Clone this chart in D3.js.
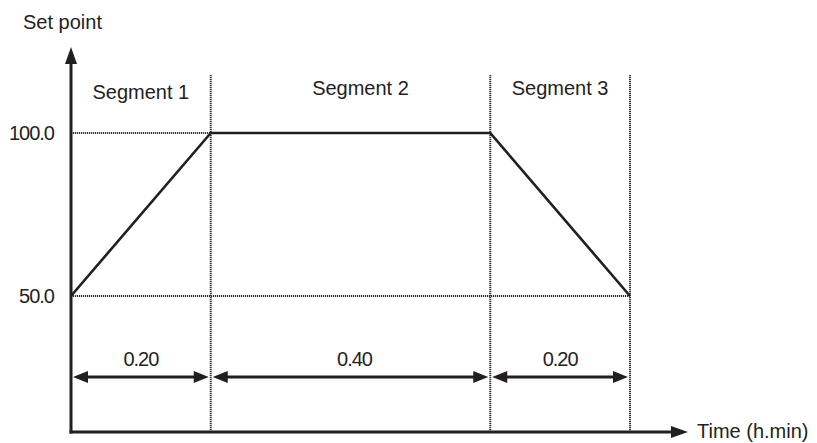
<!DOCTYPE html>
<html>
<head>
<meta charset="utf-8">
<script src="https://cdn.jsdelivr.net/npm/d3@7"></script>
<style>
  body { margin: 0; background: #fff; }
  text { font-family: "Liberation Sans", Arial, sans-serif; fill: #231f20; }
  .num { letter-spacing: -1px; }
</style>
</head>
<body>
<div id="chart"></div>
<script>
// program data
var segments = ["Segment 1", "Segment 2", "Segment 3"];
var segTimes = [0, 20, 60, 80];          // minutes at segment boundaries
var segDurations = ["0.20", "0.40", "0.20"];
var setPoints = [50, 100, 100, 50];      // set point at each boundary
var yTicks = [50, 100];

var svgWidth = 817;
var svgHeight = 443;
var ink = "#231f20";

var svg = d3.select("#chart")
  .append("svg")
  .attr("width", svgWidth)
  .attr("height", svgHeight);

// scales
var xScale = d3.scaleLinear()
  .domain([0, 80])
  .range([71, 630]);

var yScale = d3.scaleLinear()
  .domain([50, 100])
  .range([296, 133]);

var axisY = 432;
var axisTop = 47;
var axisRight = xScale(80) + 58;

var profile = segTimes.map((t, i) => ({ t: t, v: setPoints[i] }));

// dotted guide lines
var dotted = svg.append("g")
  .attr("stroke", "#333")
  .attr("stroke-width", 2)
  .attr("stroke-dasharray", "1.2,0.8");

dotted.selectAll("line.v")
  .data(segTimes.slice(1))
  .enter()
  .append("line")
  .attr("class", "v")
  .attr("x1", d => xScale(d))
  .attr("x2", d => xScale(d))
  .attr("y1", 75)
  .attr("y2", axisY);

dotted.append("line")
  .attr("x1", xScale(0))
  .attr("x2", xScale(60))
  .attr("y1", yScale(100))
  .attr("y2", yScale(100));

dotted.append("line")
  .attr("x1", xScale(0))
  .attr("x2", xScale(80))
  .attr("y1", yScale(50))
  .attr("y2", yScale(50));

// set point profile
var line = d3.line()
  .x(d => xScale(d.t))
  .y(d => yScale(d.v));

svg.append("path")
  .datum(profile)
  .attr("d", line)
  .attr("fill", "none")
  .attr("stroke", ink)
  .attr("stroke-width", 2.6)
  .attr("stroke-linejoin", "miter");

// y tick labels
var leftAxis = d3.axisLeft(yScale)
  .tickValues(yTicks)
  .tickFormat(d3.format(".1f"))
  .tickSize(0)
  .tickPadding(17);

var yAxisG = svg.append("g")
  .attr("transform", `translate(${xScale(0)},0)`)
  .call(leftAxis);
yAxisG.select(".domain").remove();
yAxisG.selectAll("text")
  .attr("class", "num")
  .style("font-size", "20px")
  .style("font-family", "'Liberation Sans', Arial, sans-serif")
  .attr("fill", ink);

// main axes with arrows
svg.append("line")
  .attr("x1", xScale(0))
  .attr("x2", xScale(0))
  .attr("y1", axisY + 1.5)
  .attr("y2", axisTop + 14)
  .attr("stroke", ink)
  .attr("stroke-width", 3);

svg.append("path")
  .attr("d", `M${xScale(0)},${axisTop} l-6,17 l12,0 z`)
  .attr("fill", ink);

svg.append("line")
  .attr("x1", xScale(0) - 1.5)
  .attr("x2", axisRight - 14)
  .attr("y1", axisY)
  .attr("y2", axisY)
  .attr("stroke", ink)
  .attr("stroke-width", 3);

svg.append("path")
  .attr("d", `M${axisRight},${axisY} l-17,-6 l0,12 z`)
  .attr("fill", ink);

// axis titles
svg.append("text")
  .attr("x", 23)
  .attr("y", 29)
  .style("font-size", "20px")
  .text("Set point");

svg.append("text")
  .attr("x", axisRight + 9)
  .attr("y", axisY + 6)
  .style("font-size", "20px")
  .text("Time (h.min)");

// segment labels
svg.selectAll("text.seg")
  .data(segments)
  .enter()
  .append("text")
  .attr("class", "seg")
  .attr("x", (d, i) => (xScale(segTimes[i]) + xScale(segTimes[i + 1])) / 2 + (i === 1 ? 10 : 0))
  .attr("y", (d, i) => i === 0 ? 99 : 95)
  .attr("text-anchor", "middle")
  .style("font-size", "20px")
  .text(d => d);

// duration dimension arrows
var dimY = 377;
var dims = svg.selectAll("g.dim")
  .data(segDurations)
  .enter()
  .append("g")
  .attr("class", "dim");

dims.append("line")
  .attr("x1", (d, i) => xScale(segTimes[i]) + 10)
  .attr("x2", (d, i) => xScale(segTimes[i + 1]) - 10)
  .attr("y1", dimY)
  .attr("y2", dimY)
  .attr("stroke", ink)
  .attr("stroke-width", 3);

dims.append("path")
  .attr("d", (d, i) => `M${xScale(segTimes[i]) + 2},${dimY} l15,-6 l0,12 z`)
  .attr("fill", ink);

dims.append("path")
  .attr("d", (d, i) => `M${xScale(segTimes[i + 1]) - 2},${dimY} l-15,-6 l0,12 z`)
  .attr("fill", ink);

dims.append("text")
  .attr("class", "num")
  .attr("x", (d, i) => (xScale(segTimes[i]) + xScale(segTimes[i + 1])) / 2 + (i === 1 ? 4 : 0))
  .attr("y", 366)
  .attr("text-anchor", "middle")
  .style("font-size", "20px")
  .text(d => d);
</script>
</body>
</html>
